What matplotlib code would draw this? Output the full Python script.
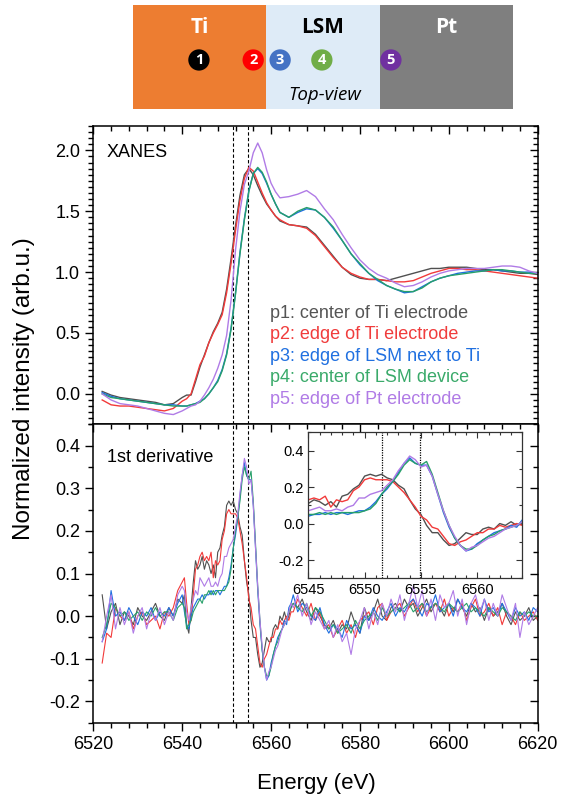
import matplotlib
matplotlib.use('Agg')
import matplotlib.pyplot as plt
from matplotlib.patches import Rectangle
from matplotlib.ticker import MultipleLocator, FormatStrFormatter
import numpy as np

# ========== CONFIGURATION ==========
FIG_W, FIG_H = 565, 796
DPI = 100
OUTPUT_FILE = "out.png"
plt.rcParams['font.family'] = ['Liberation Sans', 'DejaVu Sans']

LABELS = ["p1: center of Ti electrode", "p2: edge of Ti electrode",
          "p3: edge of LSM next to Ti", "p4: center of LSM device",
          "p5: edge of Pt electrode"]
COLORS = ["#505050", "#f23a3a", "#1f6fe0", "#27a06a", "#b07be6"]
TEXT_COLORS = ["#555555", "#f03c3c", "#2070e0", "#3aaa6a", "#b07be6"]
EDGE_LINES = [6551.5, 6554.9]

# ========== DATA (values x100) ==========
E_XANES = np.concatenate([np.arange(6522, 6541, 2), np.arange(6541, 6563, 1),
                          np.arange(6564, 6621, 2)])

xanes_p1 = [2, -1, -3, -4, -5, -6, -7, -9, -8, -3,
            -1, -1, 10, 22, 32, 42, 51, 58, 67, 86, 111, 138, 163, 180, 185, 180, 171, 163, 156, 151, 146, 142,
            139, 138, 137, 131, 122, 113, 104, 98, 95, 94, 94, 93, 95, 97, 99, 101, 103, 103, 104, 104,
            104, 103, 102, 102, 101, 100, 99, 99, 98]
xanes_p2 = [-5, -9, -10, -10, -11, -12, -13, -14, -12, -6,
            -4, 0, 12, 24, 31, 42, 50, 57, 65, 83, 107, 134, 159, 177, 186, 183, 174, 165, 157, 151, 146, 143,
            139, 138, 136, 130, 121, 112, 104, 99, 96, 94, 94, 93, 92, 92, 93, 96, 99, 101, 103, 103,
            102, 102, 101, 100, 99, 98, 97, 96, 95]
xanes_p3 = [1, -2, -4, -5, -6, -7, -8, -9, -9, -10,
            -10, -9, -8, -6, -4, 0, 5, 11, 20, 33, 54, 83, 116, 144, 167, 181, 185, 181, 173, 164, 156, 149,
            145, 149, 152, 151, 145, 136, 126, 115, 106, 99, 93, 89, 86, 83, 84, 88, 92, 95, 97, 99,
            100, 101, 101, 102, 101, 101, 100, 100, 99]
xanes_p4 = [0, -3, -4, -5, -6, -7, -8, -9, -10, -10,
            -10, -9, -8, -7, -4, 0, 5, 10, 19, 32, 53, 82, 115, 143, 166, 181, 186, 182, 174, 164, 156, 149,
            145, 150, 153, 151, 145, 137, 126, 115, 107, 99, 94, 89, 86, 84, 84, 87, 92, 95, 97, 98,
            99, 100, 101, 102, 102, 101, 100, 99, 99]
xanes_p5 = [0, -5, -8, -9, -10, -12, -14, -16, -17, -14,
            -12, -10, -9, -6, -1, 5, 12, 21, 32, 48, 77, 118, 150, 172, 183, 198, 206, 198, 184, 173, 166, 161,
            162, 164, 167, 162, 152, 143, 131, 120, 110, 103, 98, 95, 91, 88, 89, 92, 96, 99, 101, 102,
            103, 103, 103, 104, 105, 105, 104, 101, 99]

E_DERIV = np.concatenate([np.arange(6522, 6540, 1.0), np.arange(6540, 6565, 0.5),
                          np.arange(6565, 6621, 1.0)])

deriv_p1 = ([5, -3, 1, 3, -2, 1, 0, -2, 2, 0, -1, 1, 3, 0, -1, 2, 0, 4]
            + [3, 5, -2, -4, 2, 8, 13, 11, 12, 14, 11, 13, 12, 10, 12, 9, 15, 16, 19, 21,
               26, 27, 26, 27, 25, 24, 21, 19, 13, 8, 5, -1, -5, -5, -9, -12, -11, -8, -5, -6,
               -6, -3, -2, -3, 0, -1, 1, -1, 0, 2]
            + [3, 2, 4, 1, -1, 2, 0, -2, -3, -1, -4, -2, -3, 1, -2, -4, 2, -1, 1, 4,
               0, -1, 2, 3, 1, 4, 2, 3, 0, 2, 4, 1, 3, 2, 0, 3, 1, 4, 2, 0,
               3, 1, 2, -1, 2, 0, 1, 3, 0, -2, 1, -1, 0, 2, -1, 0])
deriv_p2 = ([-11, -4, -5, 2, 0, -1, 1, -3, 0, 1, -2, -1, 0, -3, 1, 0, 2, 6]
            + [8, 9, 3, -2, -1, 5, 11, 12, 14, 15, 13, 14, 13, 15, 9, 13, 12, 13, 18, 20,
               24, 25, 24, 24, 24, 23, 20, 17, 13, 9, 4, 2, -2, -3, -7, -11, -12, -10, -9, -7,
               -5, -5, -3, -3, -1, -2, -1, 0, -1, 1]
            + [1, 4, 2, 0, 3, -1, 1, -3, -2, -5, -3, -1, -4, -2, -5, -1, 0, 1, -2, 2,
               3, -1, 1, 2, 3, 0, 2, 4, 1, 3, 0, 2, 3, 1, 4, 0, 2, 1, 3, -1,
               2, 4, 0, 1, 3, 0, 2, -2, 1, 0, -2, 1, -1, 0, 1, -1])
deriv_p3 = ([-6, -3, 6, 0, 1, -1, 2, 0, -2, 1, 0, 2, -1, 1, 0, 2, 0, 3]
            + [5, 1, -2, -3, 0, 2, 3, 4, 4, 5, 4, 5, 5, 6, 5, 6, 6, 5, 6, 7,
               7, 9, 12, 16, 19, 23, 28, 33, 36, 33, 32, 32, 26, 16, 6, -2, -8, -12, -15, -14,
               -11, -9, -7, -5, -4, -3, -1, -2, 2, 3]
            + [5, 1, 3, 2, 0, -1, 2, -2, -4, -2, -3, -5, -1, -3, -2, -4, 0, -1, 2, 0,
               -1, 1, 3, 0, 2, 1, 3, 4, 2, 0, 3, 2, 5, 1, 2, 3, 0, 4, 2, 1,
               3, 2, 0, 4, 1, 2, 0, 3, 1, -1, 2, 0, 1, -1, 2, 1])
deriv_p4 = ([-5, -2, 3, 2, 0, 1, -1, 0, 1, -1, 1, 0, 2, 0, 1, 1, -1, 2]
            + [3, 2, -3, -2, -1, 1, 2, 3, 4, 3, 5, 5, 6, 5, 6, 5, 6, 6, 6, 6,
               7, 8, 11, 16, 20, 23, 27, 32, 35, 33, 32, 34, 27, 17, 7, -1, -8, -12, -14, -14,
               -12, -9, -7, -6, -4, -3, -2, -1, 1, 2]
            + [3, 2, 1, 3, 0, 2, 1, -1, -3, -2, -4, -3, -2, -4, -1, -3, -1, 0, 1, -1,
               2, 0, 1, 2, 1, 2, 3, 1, 2, 3, 1, 2, 3, 2, 1, 3, 2, 1, 2, 3,
               1, 2, 1, 0, 2, 1, 0, 2, 1, 0, -1, 1, 0, 1, 0, 0])
deriv_p5 = ([-6, 0, 5, -3, 2, -2, 1, -4, 0, 2, -3, 1, -1, 2, -2, 1, -1, 5]
            + [7, 6, 1, -1, 2, 4, 6, 5, 9, 8, 7, 8, 9, 7, 7, 8, 7, 9, 10, 14,
               14, 16, 17, 18, 21, 24, 29, 33, 37, 35, 31, 32, 26, 16, 7, -1, -7, -12, -15, -13,
               -12, -10, -8, -7, -5, -3, -2, -1, 1, 3]
            + [2, 5, 0, 3, -2, 1, -1, -3, -1, -5, -2, -6, -4, -9, -3, -1, 2, -3, 1, -2,
               3, 0, 4, 1, 5, -1, 3, 7, 2, 6, 0, 4, -1, 5, 2, 3, 6, 0, 4, -2,
               3, 5, 1, 4, -1, 3, 0, 5, 2, -1, 3, -5, 1, -2, 0, 2])

XANES = [np.array(v) / 100 for v in (xanes_p1, xanes_p2, xanes_p3, xanes_p4, xanes_p5)]
DERIV = [np.array(v) / 100 for v in (deriv_p1, deriv_p2, deriv_p3, deriv_p4, deriv_p5)]

# schematic: (label, start, end, fill, text colour)
REGIONS = [("Ti", 0.0, 0.35, "#ED7D31", "white"),
           ("LSM", 0.35, 0.65, "#DEEBF7", "black"),
           ("Pt", 0.65, 1.0, "#7F7F7F", "white")]
SPOT_X = [0.173, 0.316, 0.387, 0.497, 0.679]
SPOT_COLORS = ["#000000", "#FF0000", "#4472C4", "#70AD47", "#7030A0"]


def px(x=None, y=None):
    """pixel -> figure fraction"""
    if y is None:
        return x / FIG_W
    return 1 - y / FIG_H


def style_axis(ax, xlabels=True):
    ax.set_xlim(6520, 6620)
    ax.xaxis.set_major_locator(MultipleLocator(20))
    ax.xaxis.set_minor_locator(MultipleLocator(4))
    ax.yaxis.set_minor_locator(MultipleLocator(0.05))
    ax.yaxis.set_major_formatter(FormatStrFormatter('%.1f'))
    for which, ln in (("major", 6), ("minor", 3.5)):
        ax.tick_params(axis='y', which=which, left=True, right=False, direction='out',
                       length=ln, width=1)
        ax.tick_params(axis='x', which=which, top=False, bottom=True, direction='out',
                       length=ln, width=1)
    ax.tick_params(labelsize=13, labelbottom=xlabels)
    # mirrored inward ticks on top and right
    sec_x = ax.secondary_xaxis('top')
    sec_x.xaxis.set_major_locator(MultipleLocator(20))
    sec_x.xaxis.set_minor_locator(MultipleLocator(4))
    sec_x.tick_params(which='major', direction='in', length=6, width=1, labeltop=False)
    sec_x.tick_params(which='minor', direction='in', length=3.5, width=1)
    sec_y = ax.secondary_yaxis('right')
    sec_y.yaxis.set_major_locator(ax.yaxis.get_major_locator())
    sec_y.yaxis.set_minor_locator(MultipleLocator(0.05))
    sec_y.tick_params(which='major', direction='in', length=6, width=1, labelright=False)
    sec_y.tick_params(which='minor', direction='in', length=3.5, width=1)
    for s in ax.spines.values():
        s.set_linewidth(1.1)
    for a in (sec_x, sec_y):
        for s in a.spines.values():
            s.set_visible(False)


def draw_schematic(fig):
    ax = fig.add_axes([px(133.3), px(y=109.3), (512.7 - 133.3) / FIG_W, (109.3 - 5) / FIG_H])
    ax.set_xlim(0, 1)
    ax.set_ylim(0, 1)
    ax.axis('off')
    for label, x0, x1, fill, tc in REGIONS:
        ax.add_patch(Rectangle((x0, 0), x1 - x0, 1, color=fill, linewidth=0))
        ax.text((x0 + x1) / 2, 0.78, label, ha='center', va='center', fontsize=15,
                weight='bold', color=tc, family='Open Sans')
    ax.scatter(SPOT_X, [0.473] * len(SPOT_X), s=235, c=SPOT_COLORS, zorder=3, linewidths=0)
    for i, x in enumerate(SPOT_X):
        ax.text(x, 0.468, str(i + 1), ha='center', va='center', fontsize=10.5,
                weight='bold', color='white', zorder=4, family='Open Sans')
    ax.text(0.505, 0.14, "Top-view", ha='center', va='center', fontsize=13.5,
            style='italic', family='Open Sans')


# ========== DRAW ==========
def main():
    fig = plt.figure(figsize=(FIG_W / DPI, FIG_H / DPI), dpi=DPI)
    left, width = px(93.3), (537.7 - 93.3) / FIG_W
    ax_top = fig.add_axes([left, px(y=424.3), width, (424.3 - 126) / FIG_H])
    ax_bot = fig.add_axes([left, px(y=722.7), width, (722.7 - 424.3) / FIG_H])

    # XANES panel
    for y, c in zip(XANES, COLORS):
        ax_top.plot(E_XANES, y, color=c, lw=1.0)
    ax_top.set_ylim(-0.25, 2.2)
    ax_top.yaxis.set_major_locator(MultipleLocator(0.5))
    style_axis(ax_top, xlabels=False)
    ax_top.text(0.03, 0.91, "XANES", transform=ax_top.transAxes, fontsize=13, va='center')
    for i, (lab, c) in enumerate(zip(LABELS, TEXT_COLORS)):
        ax_top.text(0.398, 0.373 - i * 0.0724, lab, transform=ax_top.transAxes,
                    color=c, fontsize=13, va='center')

    # derivative panel
    for y, c in zip(DERIV, COLORS):
        ax_bot.plot(E_DERIV, y, color=c, lw=0.8)
    ax_bot.set_ylim(-0.25, 0.45)
    ax_bot.yaxis.set_major_locator(MultipleLocator(0.1))
    style_axis(ax_bot)
    ax_bot.text(0.03, 0.888, "1st derivative", transform=ax_bot.transAxes, fontsize=13,
                va='center')

    for ax in (ax_top, ax_bot):
        for e in EDGE_LINES:
            ax.axvline(e, color='black', lw=0.8, dashes=(3, 2), zorder=0)

    # inset
    ins = fig.add_axes([px(308.3), px(y=578.3), (522.3 - 308.3) / FIG_W,
                        (578.3 - 432.3) / FIG_H])
    for y, c in zip(DERIV, COLORS):
        ins.plot(E_DERIV, y, color=c, lw=1.0)
    for e in EDGE_LINES:
        ins.axvline(e, color='black', lw=0.9, dashes=(1, 1), zorder=0)
    ins.set_xlim(6545, 6564)
    ins.set_ylim(-0.3, 0.5)
    ins.xaxis.set_major_locator(MultipleLocator(5))
    ins.xaxis.set_minor_locator(MultipleLocator(1))
    ins.yaxis.set_major_locator(MultipleLocator(0.2))
    ins.yaxis.set_minor_locator(MultipleLocator(0.1))
    ins.yaxis.set_major_formatter(FormatStrFormatter('%.1f'))
    ins.tick_params(which='both', direction='in', top=True, right=True, width=0.8,
                    labelsize=10.5, color='#333333')
    ins.tick_params(which='major', length=4)
    ins.tick_params(which='minor', length=2)
    for s in ins.spines.values():
        s.set_color('#333333')
        s.set_linewidth(0.9)

    fig.text(px(24), px(y=389), "Normalized intensity (arb.u.)", rotation=90,
             ha='center', va='center', fontsize=17.5)
    fig.text(px(316), px(y=784), "Energy (eV)", ha='center', va='center', fontsize=16)

    draw_schematic(fig)
    fig.savefig(OUTPUT_FILE, dpi=DPI)
    plt.close(fig)


if __name__ == "__main__":
    main()
